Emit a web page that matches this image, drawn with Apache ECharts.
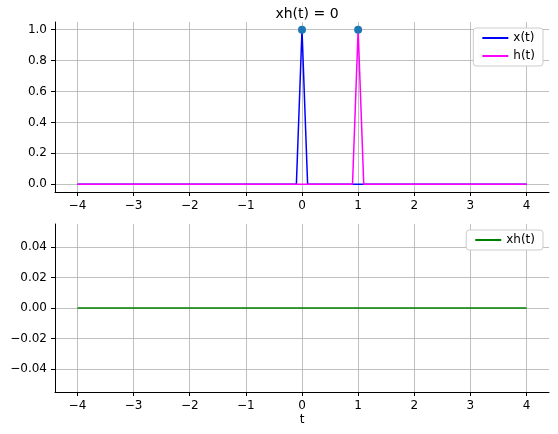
<!DOCTYPE html>
<html>
<head>
<meta charset="UTF-8">
<script src="https://cdn.jsdelivr.net/npm/echarts@6/dist/echarts.min.js"></script>
<style>body{margin:0}#c{width:558px;height:434px}</style>
</head>
<body>
<div id="c"></div>
<script>
// signals
const xSignal = [[-4, 0], [-0.1, 0], [0, 1], [0.1, 0], [4, 0]];
const hSignal = [[-4, 0], [0.9, 0], [1, 1], [1.1, 0], [4, 0]];
const peaks = [[0, 1], [1, 1]];
const xhSignal = [[-4, 0], [4, 0]];
const tTicks = [-4, -3, -2, -1, 0, 1, 2, 3, 4];
const topTicks = [0, 0.2, 0.4, 0.6, 0.8, 1.0];
const bottomTicks = [-0.04, -0.02, 0, 0.02, 0.04];
const font = 'DejaVu Sans';
const minus = s => s.replace('-', '\u2212');

const xAxisBase = (idx) => ({
    gridIndex: idx, type: 'value', min: -4.4, max: 4.4,
    axisLine: { onZero: false, lineStyle: { color: '#000' } },
    axisTick: { show: true, length: 4, customValues: tTicks, lineStyle: { color: '#000' } },
    axisLabel: { color: '#000', fontFamily: font, fontSize: 12, customValues: tTicks,
        formatter: v => minus(String(v)) },
    splitLine: { show: true, lineStyle: { color: '#b0b0b0', width: 0.8 } },
    name: idx === 1 ? 't' : '', nameLocation: 'middle', nameGap: 22,
    nameTextStyle: { color: '#000', fontFamily: font, fontSize: 12 }
});
const yAxisBase = (idx, min, max, ticks, dec) => ({
    gridIndex: idx, type: 'value', min: min, max: max,
    axisLine: { show: true, onZero: false, lineStyle: { color: '#000' } },
    axisTick: { show: true, length: 4, customValues: ticks, lineStyle: { color: '#000' } },
    axisLabel: { color: '#000', fontFamily: font, fontSize: 12, customValues: ticks,
        formatter: v => minus(v.toFixed(dec)) },
    splitLine: { show: true, lineStyle: { color: '#b0b0b0', width: 0.8 } }
});
const legendStyle = {
    orient: 'vertical', right: 15, backgroundColor: '#fff', borderColor: '#ccc', borderWidth: 1,
    borderRadius: 3, padding: [4, 8], itemWidth: 26, itemHeight: 2, itemGap: 6,
    textStyle: { fontFamily: font, fontSize: 12, color: '#000' }
};
const chart = echarts.init(document.getElementById('c'));
chart.setOption({
    animation: false,
    title: { text: 'xh(t) = 0', left: 302, top: 2, textAlign: 'center',
        textStyle: { fontFamily: font, fontSize: 14, fontWeight: 'normal', color: '#000' } },
    grid: [
        { left: 55, right: 9, top: 22, height: 170 },
        { left: 55, right: 9, top: 224, height: 168 }
    ],
    xAxis: [xAxisBase(0), xAxisBase(1)],
    yAxis: [yAxisBase(0, -0.05, 1.05, topTicks, 1), yAxisBase(1, -0.055, 0.055, bottomTicks, 2)],
    legend: [
        Object.assign({ top: 28, data: ['x(t)', 'h(t)'] }, legendStyle),
        Object.assign({ top: 230, data: ['xh(t)'] }, legendStyle)
    ],
    series: [
        { name: 'x(t)', type: 'line', data: xSignal, symbol: 'none', lineStyle: { color: '#0000ff', width: 1.5 }, itemStyle: { color: '#0000ff' } },
        { name: 'h(t)', type: 'line', data: hSignal, symbol: 'none', lineStyle: { color: '#ff00ff', width: 1.5 }, itemStyle: { color: '#ff00ff' } },
        { type: 'scatter', data: peaks, symbolSize: 8, itemStyle: { color: '#1f77b4', opacity: 1 }, z: 5 },
        { name: 'xh(t)', type: 'line', xAxisIndex: 1, yAxisIndex: 1, data: xhSignal, symbol: 'none', lineStyle: { color: '#008000', width: 1.5 }, itemStyle: { color: '#008000' } }
    ]
});
</script>
</body>
</html>
